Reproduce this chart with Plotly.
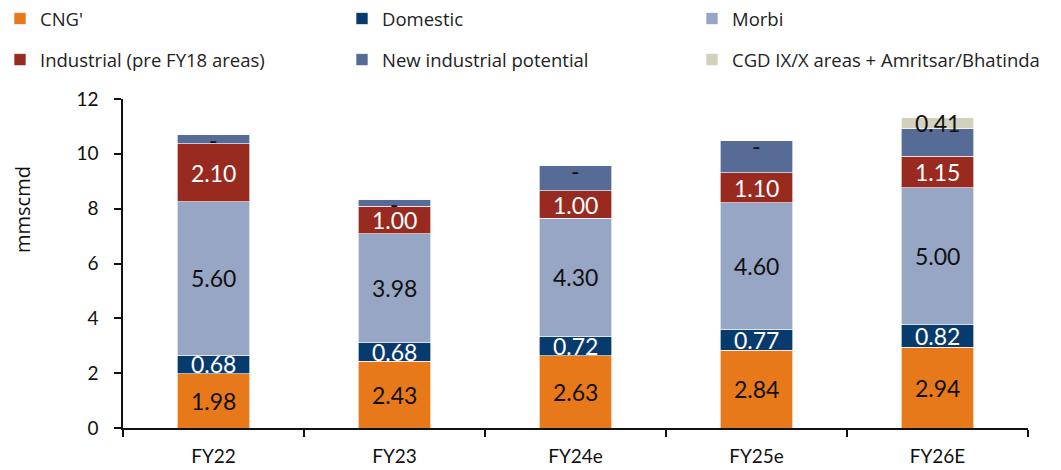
import plotly.graph_objects as go

# Gas volume by segment, mmscmd
years = ["FY22", "FY23", "FY24e", "FY25e", "FY26E"]
cng = [1.98, 2.43, 2.63, 2.84, 2.94]
domestic = [0.68, 0.68, 0.72, 0.77, 0.82]
morbi = [5.60, 3.98, 4.30, 4.60, 5.00]
industrial = [2.10, 1.00, 1.00, 1.10, 1.15]
new_industrial = [0.33, 0.26, 0.92, 1.16, 1.00]
cgd_new = [0.0, 0.0, 0.0, 0.0, 0.41]

# name, values, fill, label colour, legend column, show labels
series = [
    ("CNG'", cng, "#E8791A", "#111111", "legend", True),
    ("Domestic", domestic, "#083B6D", "#FFFFFF", "legend2", True),
    ("Morbi", morbi, "#97A6C4", "#111111", "legend3", True),
    ("Industrial (pre FY18 areas)", industrial, "#982A20", "#FFFFFF", "legend", True),
    ("New industrial potential", new_industrial, "#566B95", "#111111", "legend2", False),
    ("CGD IX/X areas + Amritsar/Bhatinda", cgd_new, "#D3D0BC", "#111111", "legend3", True),
]

LABEL_FONT = "Lato, 'Open Sans', sans-serif"
LEGEND_FONT = "'Open Sans', sans-serif"

fig = go.Figure()
annotations = []

base = [0.0] * len(years)
for name, vals, color, txtcolor, leg, labelled in series:
    fig.add_trace(go.Bar(
        x=years, y=vals, name=name, legend=leg, legendgroup=name,
        marker=dict(color=color, line=dict(color="rgba(255,255,255,0.8)", width=0.8)),
        width=0.4, hoverinfo="y+name",
    ))
    if labelled:
        for x, b, v in zip(years, base, vals):
            annotations.append(dict(
                x=x, y=b + v / 2, xref="x", yref="y",
                text=f"{v:.2f}" if v > 0 else "-",
                showarrow=False, yshift=0 if v > 0 else -5,
                font=dict(family=LABEL_FONT, size=23, color=txtcolor),
            ))
    base = [b + v for b, v in zip(base, vals)]

W, H = 1061, 470
ml, mr, mt, mb = 123, 33, 99, 42
pw = W - ml - mr
ph = H - mt - mb

# y-axis title, set beside the tick labels
annotations.append(dict(
    text="mmscmd", textangle=-90, showarrow=False,
    xref="paper", yref="paper", x=(22 - ml) / pw, y=(H - mb - 210) / ph,
    xanchor="center", yanchor="middle",
    font=dict(family=LEGEND_FONT, size=20, color="#111111"),
))

# legend columns placed in page pixels
legend_common = dict(
    orientation="v", xanchor="left", yanchor="top",
    xref="container", yref="container",
    y=1.0, tracegroupgap=14,
    font=dict(family=LEGEND_FONT, size=18.5, color="#222222"),
    bgcolor="rgba(0,0,0,0)", itemwidth=30,
)

fig.update_layout(
    width=W, height=H,
    margin=dict(l=ml, r=mr, t=mt, b=mb, autoexpand=False),
    barmode="stack",
    plot_bgcolor="white", paper_bgcolor="white",
    showlegend=True,
    legend=dict(legend_common, x=0.0),
    legend2=dict(legend_common, x=342 / W),
    legend3=dict(legend_common, x=692 / W),
    font=dict(family=LABEL_FONT, color="#111111"),
    annotations=annotations,
    xaxis=dict(
        type="category", showline=True, linecolor="#111111", linewidth=1.5,
        ticks="outside", tickson="boundaries", ticklen=7, tickcolor="#111111",
        tickwidth=1.5, tickfont=dict(size=19, color="#111111"),
        ticklabelstandoff=10, automargin=False,
        showgrid=False, zeroline=False,
    ),
    yaxis=dict(
        range=[0, 12], dtick=2, showline=True, linecolor="#111111", linewidth=1.5,
        ticks="outside", ticklen=7, tickcolor="#111111", tickwidth=1.5,
        tickfont=dict(size=19, color="#111111"),
        ticklabelstandoff=12, automargin=False,
        showgrid=False, zeroline=False,
    ),
)

fig.write_html("out.html")
